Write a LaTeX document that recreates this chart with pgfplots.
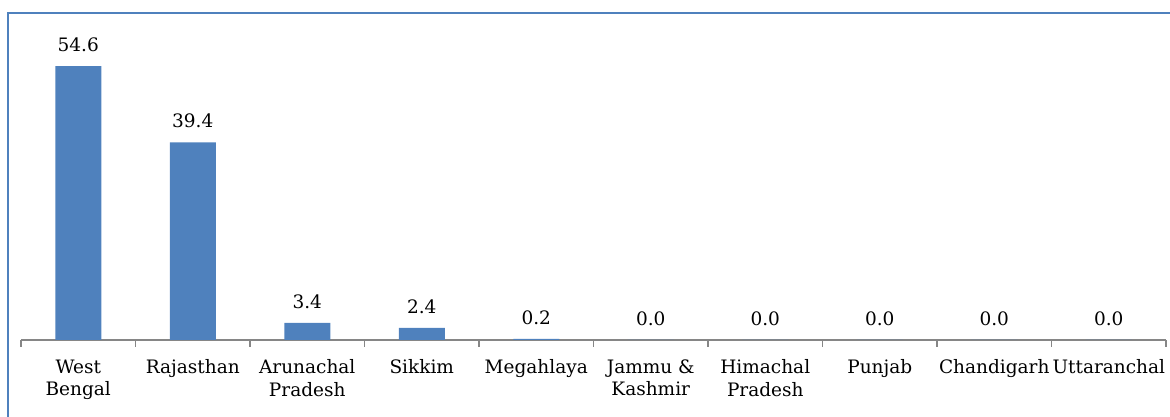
\documentclass[border=0pt]{standalone}
\usepackage{pgfplots}
\pgfplotsset{compat=1.18}
\usepackage{fontspec}
\setmainfont{DejaVu Serif}
\definecolor{barblue}{HTML}{4F81BD}
\definecolor{framegray}{HTML}{868686}
\begin{document}
\begin{tikzpicture}[x=1pt,y=1pt]
\useasboundingbox (0,0) rectangle (1170,417);
\draw[barblue, line width=1.6pt] (8,0) -- (8,404) -- (1170,404);
\begin{axis}[
    at={(21pt,77pt)}, anchor=south west,
    scale only axis,
    width=1145pt, height=301pt,
    xmin=-0.5, xmax=9.5,
    ymin=0, ymax=60,
    axis x line*=bottom,
    axis y line=none,
    axis line style={framegray, line width=1.2pt},
    ybar, bar width=46pt,
    xtick={0,...,9},
    xticklabels={West\\Bengal, Rajasthan, Arunachal\\Pradesh, Sikkim, Megahlaya,
      Jammu \&\\Kashmir, Himachal\\Pradesh, Punjab, Chandigarh, Uttaranchal},
    major tick length=0pt,
    minor xtick={-0.5,0.5,...,9.5},
    minor tick length=7pt,
    xtick align=outside,
    minor tick style={framegray, line width=1.2pt},
    x tick label style={align=center, font=\fontsize{18.5}{22.5}\selectfont,
      text=black, anchor=north, yshift=-16pt},
    /pgf/number format/.cd, fixed, fixed zerofill, precision=1, assume math mode=true,
    /pgfplots/.cd,
    nodes near coords,
    nodes near coords style={font=\fontsize{18.5}{22.5}\selectfont, text=black, yshift=11pt},
    clip=false]
  \addplot[fill=barblue, draw=none] coordinates {
    (0,54.6) (1,39.4) (2,3.4) (3,2.4) (4,0.2)
    (5,0.0) (6,0.0) (7,0.0) (8,0.0) (9,0.0)};
\end{axis}
\end{tikzpicture}
\end{document}
